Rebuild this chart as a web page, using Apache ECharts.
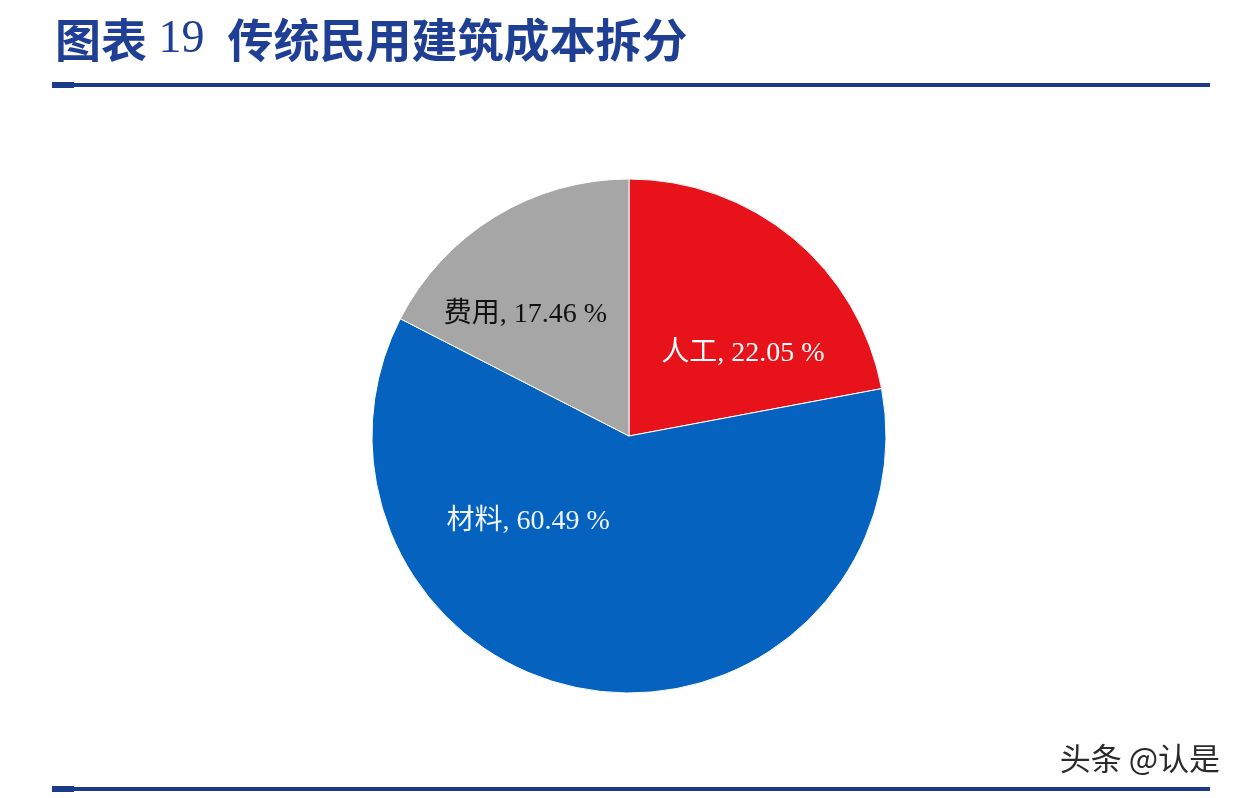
<!DOCTYPE html>
<html><head><meta charset="utf-8">
<script src="https://cdn.jsdelivr.net/npm/echarts@6/dist/echarts.min.js"></script>
<style>html,body{margin:0;padding:0;background:#fff}#c{width:1242px;height:798px}</style>
</head><body><div id="c"></div>
<script>
const categories = ['人工', '材料', '费用'];
const values = [22.05, 60.49, 17.46];
const colors = ['#E8121A', '#0562BE', '#A6A6A6'];
const labelColors = ['#ffffff', '#eef4ff', '#111111'];
const labelShift = [[30, 19], [-82, -44], [-35, -9]];

const chart = echarts.init(document.getElementById('c'));
const navy = '#1A3A8C';
const titleColor = '#1F3F95';
chart.setOption({
  backgroundColor: '#fff',
  animation: false,
  title: {
    text: '{b|图表}{n|\u00a019\u00a0\u00a0}{b|传统民用建筑成本拆分}',
    left: 50, top: 12,
    textStyle: {
      rich: {
        b: { fontFamily: '"Noto Sans CJK SC"', fontSize: 46, fontWeight: 'bold', color: titleColor },
        n: { fontFamily: '"Liberation Serif"', fontSize: 46, fontWeight: 'normal', color: titleColor }
      }
    }
  },
  graphic: [
    { type: 'rect', shape: { x: 52, y: 83, width: 1158, height: 4 }, style: { fill: navy } },
    { type: 'rect', shape: { x: 52, y: 82, width: 22, height: 6 }, style: { fill: navy } },
    { type: 'rect', shape: { x: 52, y: 787, width: 1158, height: 4 }, style: { fill: navy } },
    { type: 'rect', shape: { x: 52, y: 786, width: 22, height: 6 }, style: { fill: navy } },
    { type: 'text', right: 22, top: 743, style: { text: '头条 @认是', fontFamily: '"Noto Sans CJK SC"', fontSize: 31, fill: '#2a2a2a', textShadowColor: 'rgba(255,255,255,0.9)', textShadowBlur: 2, textShadowOffsetX: 1, textShadowOffsetY: 1 } }
  ],
  series: [{
    type: 'pie',
    center: [629, 436],
    radius: 257,
    startAngle: 90,
    clockwise: true,
    itemStyle: { borderColor: '#fff', borderWidth: 1 },
    label: {
      show: true,
      position: 'inside',
      fontFamily: '"Liberation Serif","Noto Sans CJK SC"',
      fontSize: 28,
      formatter: p => p.name + ', ' + p.value.toFixed(2) + ' %'
    },
    labelLine: { show: false },
    labelLayout: p => ({ dx: labelShift[p.dataIndex][0], dy: labelShift[p.dataIndex][1] }),
    emphasis: { disabled: true },
    data: categories.map((n, i) => ({
      name: n, value: values[i],
      itemStyle: { color: colors[i] },
      label: { color: labelColors[i] }
    }))
  }]
});
</script></body></html>
